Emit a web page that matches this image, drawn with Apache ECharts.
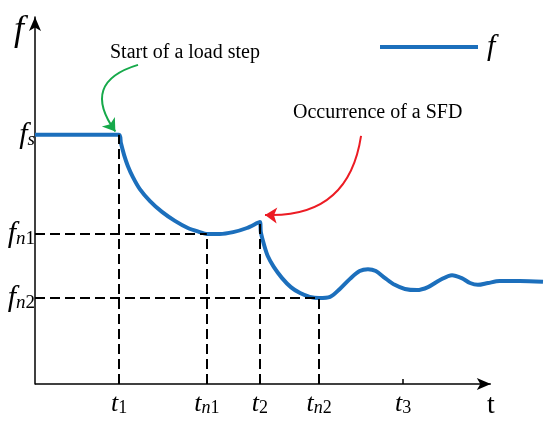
<!DOCTYPE html>
<html>
<head>
<meta charset="utf-8">
<script src="https://cdn.jsdelivr.net/npm/echarts@6/dist/echarts.min.js"></script>
<style>
  html, body { margin: 0; padding: 0; background: #fff; }
  #chart { width: 550px; height: 426px; }
</style>
</head>
<body>
<div id="chart"></div>
<script>
// 时间轴上的关键点（t1, tn1, t2, tn2, t3）
const tTicks = [18.2, 37.2, 48.7, 61.5, 79.7];
const tSubs = ['1', 'n1', '2', 'n2', '3'];
// 频率轴上的关键点（fn2, fn1, fs）
const fTicks = [23.0, 40.1, 66.6];
const fSubs = ['n2', 'n1', 's'];
const t2Peak = 43.3;
// t轴箭头终点
const tAxisEnd = 98.7;

// 频率曲线
const tCurve = [0, 18.2, 18.6, 19.3, 20.1, 21.2, 22.7, 24.9, 27.5, 30.3, 33.1, 35.7, 37.2,
  40.0, 42.9, 45.9, 48.7, 48.9, 49.6, 50.4, 51.7, 53.5, 55.4, 57.4, 59.5, 61.5,
  63.9, 66.0, 68.2, 70.3, 72.1, 73.8, 75.8, 77.9, 80.1, 82.7, 85.1, 87.7, 90.3,
  92.4, 94.2, 95.9, 98.1, 100.6, 105.0, 110.0];
const fCurve = [66.6, 66.6, 64.4, 61.2, 58.3, 55.3, 52.1, 48.9, 46.0, 43.6, 41.7, 40.6, 40.1,
  40.1, 40.6, 41.7, 43.3, 40.6, 37.2, 34.2, 31.3, 28.3, 25.9, 24.3, 23.3, 23.0,
  23.3, 25.4, 28.1, 30.2, 30.7, 30.2, 28.3, 26.5, 25.4, 25.1, 25.9, 27.8, 29.1,
  28.3, 27.0, 26.5, 27.0, 27.5, 27.5, 27.3];

// 标注箭头
const greenArrow = [[22.3, 85.3], [17.4, 67.5]];
const redArrow = [[70.6, 66.3], [49.8, 45.2]];

const serif = 'Liberation Serif';

function subRich(sub) {
  return sub.split('').map(c => /[0-9]/.test(c) ? '{su|' + c + '}' : '{si|' + c + '}').join('');
}

function richStyle(size, subSize, lift) {
  return {
    m: { fontFamily: serif, fontStyle: 'italic', fontSize: size, color: '#000', lineHeight: size, verticalAlign: 'top' },
    si: { fontFamily: serif, fontStyle: 'italic', fontSize: subSize, color: '#000', lineHeight: subSize, padding: [lift, 0, 0, 0], verticalAlign: 'bottom' },
    su: { fontFamily: serif, fontSize: subSize, color: '#000', lineHeight: subSize, padding: [lift, 0, 0, 0], verticalAlign: 'bottom' }
  };
}

const guides = [
  [[0, fTicks[1]], [tTicks[1], fTicks[1]]],
  [[0, fTicks[0]], [tTicks[3], fTicks[0]]],
  [[tTicks[0], 0], [tTicks[0], fTicks[2]]],
  [[tTicks[1], 0], [tTicks[1], fTicks[1]]],
  [[tTicks[2], 0], [tTicks[2], t2Peak]],
  [[tTicks[3], 0], [tTicks[3], fTicks[0]]]
];

const guideLines = guides.map(g => [{ coord: g[0] }, { coord: g[1] }]);
// t轴（带箭头）
guideLines.push([
  { coord: [0, 0], symbol: 'none', lineStyle: { type: 'solid', width: 1.5, color: '#000' } },
  { coord: [tAxisEnd, 0], symbol: 'arrow', symbolSize: [9, 14] }
]);

const myChart = echarts.init(document.getElementById('chart'));
myChart.setOption({
  animation: false,
  grid: { left: 35, right: 7, top: 17, bottom: 42 },
  legend: {
    left: 380, top: 32, padding: 0,
    icon: 'rect',
    itemWidth: 98, itemHeight: 4, itemGap: 0,
    itemStyle: { color: '#1c6fbc', borderWidth: 0 },
    textStyle: { fontFamily: serif, fontStyle: 'italic', fontSize: 30, color: '#000', padding: [0, 0, 0, 4] },
    data: ['f']
  },
  graphic: [
    { type: 'text', left: 110, top: 43, style: { text: 'Start of a load step', font: '20px "Liberation Serif"', fill: '#000' } },
    { type: 'text', left: 293, top: 103, style: { text: 'Occurrence of a SFD', font: '20px "Liberation Serif"', fill: '#000' } }
  ],
  xAxis: {
    type: 'value', min: 0, max: 110,
    name: 't', nameLocation: 'end', nameGap: -56,
    nameTextStyle: { fontFamily: serif, fontSize: 28, color: '#000', verticalAlign: 'top', padding: [8, 0, 0, 0] },
    axisLine: { show: false },
    axisTick: { show: true, customValues: tTicks, inside: true, length: 5, lineStyle: { color: '#000', width: 1.5 } },
    axisLabel: {
      customValues: tTicks, margin: 7,
      formatter: v => '{m|t}' + subRich(tSubs[tTicks.indexOf(v)]),
      rich: richStyle(26, 18, 16)
    },
    splitLine: { show: false }
  },
  yAxis: {
    type: 'value', min: 0, max: 98.1,
    name: 'f', nameLocation: 'end', nameGap: -14,
    nameTextStyle: { fontFamily: serif, fontStyle: 'italic', fontSize: 36, color: '#000', align: 'right', verticalAlign: 'middle', padding: [0, 11, 0, 0] },
    axisLine: { lineStyle: { color: '#000', width: 1.5 }, symbol: ['none', 'arrow'], symbolSize: [9, 14] },
    axisTick: { show: false },
    axisLabel: {
      customValues: fTicks, margin: 0,
      formatter: v => '{m|f}' + subRich(fSubs[fTicks.indexOf(v)]),
      rich: richStyle(30, 19, 15)
    },
    splitLine: { show: false }
  },
  series: [
    {
      name: 'f',
      type: 'line',
      data: tCurve.map((t, i) => [t, fCurve[i]]),
      smooth: 0.3,
      symbol: 'none',
      clip: false,
      lineStyle: { color: '#1c6fbc', width: 4 },
      itemStyle: { color: '#1c6fbc' },
      z: 3,
      markLine: {
        silent: true,
        symbol: 'none',
        label: { show: false },
        lineStyle: { color: '#000', width: 2, type: [10, 5] },
        data: guideLines
      }
    },
    {
      type: 'lines',
      coordinateSystem: 'cartesian2d',
      symbol: ['none', 'arrow'],
      symbolSize: 12,
      silent: true,
      data: [
        { coords: greenArrow, lineStyle: { color: '#16a94a', width: 2, opacity: 1, curveness: -0.7 } },
        { coords: redArrow, lineStyle: { color: '#ec1c24', width: 2, opacity: 1, curveness: 0.45 } }
      ]
    }
  ]
});
</script>
</body>
</html>
